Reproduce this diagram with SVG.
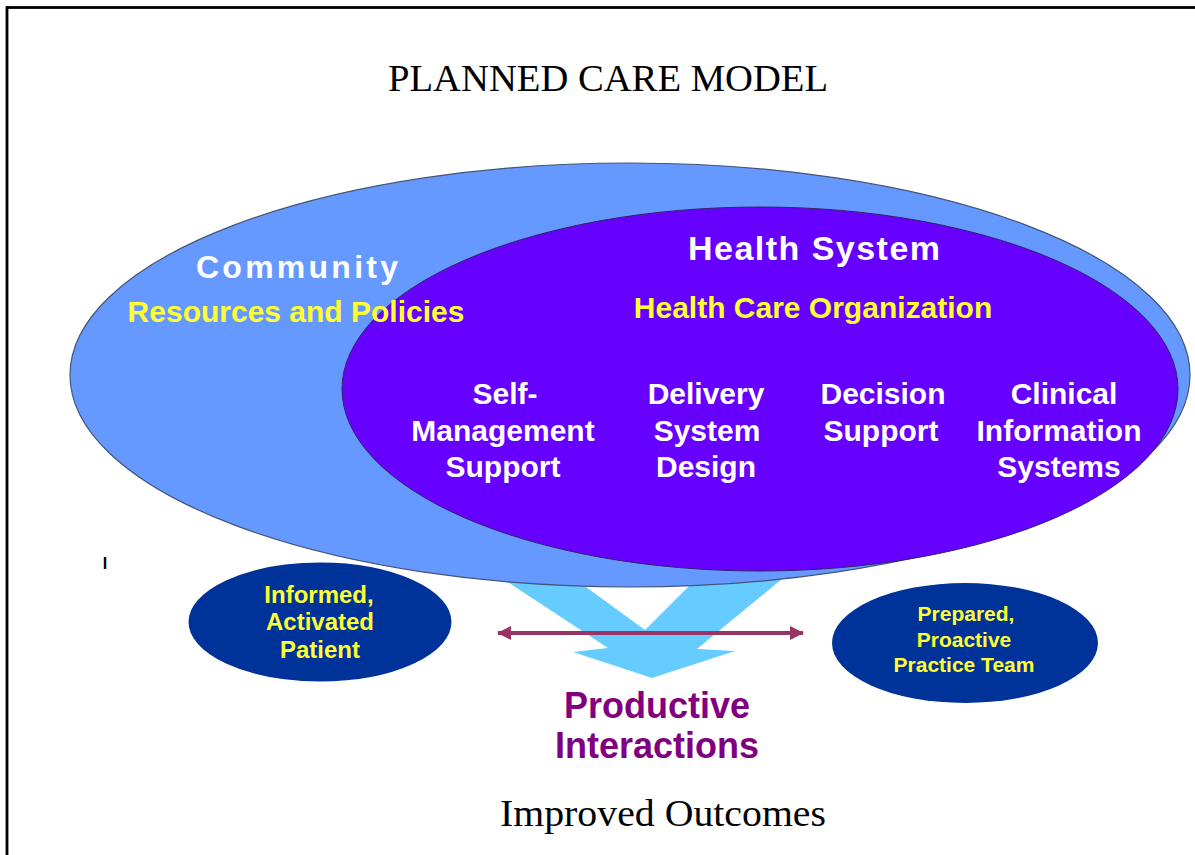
<svg xmlns="http://www.w3.org/2000/svg" width="1195" height="855" viewBox="0 0 1195 855">
<style>
.serif{font-family:"Liberation Serif","Times New Roman",serif;fill:#000}
.sans{font-family:"Liberation Sans",Arial,sans-serif;font-weight:bold;text-anchor:middle}
.w{fill:#FFFFFF}
.y{fill:#FFFF33}
.p{fill:#800080}
</style>
<defs>
<marker id="ah" viewBox="0 0 14 14" refX="13" refY="7" markerWidth="14" markerHeight="14" markerUnits="userSpaceOnUse" orient="auto-start-reverse">
<path d="M0,0 L14,7 L0,14 Z" fill="#993366"/>
</marker>
</defs>
<rect x="0" y="0" width="1195" height="855" fill="#FFFFFF"/>
<rect x="7" y="7.5" width="1250" height="900" fill="none" stroke="#000" stroke-width="2.8"/>
<text class="serif" x="608" y="91" font-size="37" text-anchor="middle" textLength="440" lengthAdjust="spacingAndGlyphs">PLANNED CARE MODEL</text>

<g id="connectors">
<polygon id="flow-arrow" points="474,560 608,648 573,652 652,678 735,651 697,649 805,560 715,560 645,630 549,560" fill="#66CCFF"/>
</g>

<g id="community">
<ellipse cx="630" cy="375" rx="560" ry="212" fill="#6699FF" stroke="#445577" stroke-width="1.2"/>
</g>

<g id="health-system">
<ellipse cx="760" cy="389" rx="418" ry="182" fill="#6600FF" stroke="#332266" stroke-width="1"/>
<text class="sans w" x="814" y="260" font-size="34" textLength="252">Health System</text>
<text class="sans y" x="813" y="318" font-size="30">Health Care Organization</text>
<text class="sans w" x="505" y="404" font-size="30">Self-</text>
<text class="sans w" x="503" y="441" font-size="30">Management</text>
<text class="sans w" x="503" y="477" font-size="30">Support</text>
<text class="sans w" x="706" y="404" font-size="30">Delivery</text>
<text class="sans w" x="707" y="441" font-size="30">System</text>
<text class="sans w" x="706" y="477" font-size="30">Design</text>
<text class="sans w" x="883" y="404" font-size="30">Decision</text>
<text class="sans w" x="881" y="441" font-size="30">Support</text>
<text class="sans w" x="1064" y="404" font-size="30">Clinical</text>
<text class="sans w" x="1059" y="441" font-size="30">Information</text>
<text class="sans w" x="1059" y="477" font-size="30">Systems</text>
</g>

<g id="community-labels">
<text class="sans w" x="297" y="278" font-size="32" textLength="202">Community</text>
<text class="sans y" x="296" y="322" font-size="30">Resources and Policies</text>
</g>

<text x="105" y="569" font-family="Liberation Sans, Arial, sans-serif" font-weight="bold" font-size="16" text-anchor="middle" fill="#000">I</text>

<g id="patient">
<ellipse cx="320" cy="622" rx="133" ry="61" fill="#003399" stroke="#FFFFFF" stroke-width="3"/>
<text class="sans y" x="319" y="603" font-size="24">Informed,</text>
<text class="sans y" x="320" y="630" font-size="24">Activated</text>
<text class="sans y" x="320" y="658" font-size="24">Patient</text>
</g>

<g id="practice-team">
<ellipse cx="965" cy="643" rx="133" ry="60" fill="#003399"/>
<text class="sans y" x="966" y="621" font-size="21">Prepared,</text>
<text class="sans y" x="964" y="647" font-size="21">Proactive</text>
<text class="sans y" x="964" y="672" font-size="21">Practice Team</text>
</g>

<g id="interaction-arrow">
<line x1="498" y1="633" x2="803" y2="633" stroke="#993366" stroke-width="4" marker-start="url(#ah)" marker-end="url(#ah)"/>
</g>

<g id="productive-interactions">
<text class="sans p" x="657" y="718" font-size="36">Productive</text>
<text class="sans p" x="657" y="758" font-size="36">Interactions</text>
</g>

<text class="serif" x="663" y="826" font-size="37" text-anchor="middle" textLength="326" lengthAdjust="spacingAndGlyphs">Improved Outcomes</text>
</svg>
